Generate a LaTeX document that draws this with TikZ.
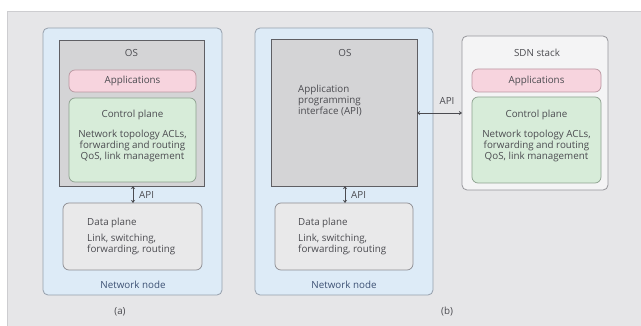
\documentclass[tikz,border=0pt]{standalone}
\usepackage{fontspec}
\setmainfont{Open Sans}
\usetikzlibrary{arrows.meta}
\definecolor{panelfill}{RGB}{230,230,232}
\definecolor{paneldraw}{RGB}{205,205,208}
\definecolor{nodefill}{RGB}{221,235,247}
\definecolor{nodedraw}{RGB}{150,160,172}
\definecolor{osfill}{RGB}{212,212,214}
\definecolor{osdraw}{RGB}{95,95,100}
\definecolor{appfill}{RGB}{247,212,222}
\definecolor{appdraw}{RGB}{185,150,160}
\definecolor{ctrlfill}{RGB}{215,236,217}
\definecolor{ctrldraw}{RGB}{140,160,142}
\definecolor{datafill}{RGB}{233,233,234}
\definecolor{datadraw}{RGB}{140,140,145}
\definecolor{sdnfill}{RGB}{244,244,245}
\definecolor{sdndraw}{RGB}{150,150,155}
\definecolor{txt}{RGB}{75,75,80}
\definecolor{bluetxt}{RGB}{60,80,115}
\tikzset{
  lbl/.style={font=\fontsize{9.8}{11}\selectfont, text=txt, inner sep=0pt, align=center},
  lbll/.style={font=\fontsize{9.8}{11}\selectfont, text=txt, inner sep=0pt, align=left, anchor=north west},
  netbox/.style={draw=nodedraw, fill=nodefill, rounded corners=5pt, line width=0.8pt},
  osbox/.style={draw=osdraw, fill=osfill, line width=0.8pt},
  appbox/.style={draw=appdraw, fill=appfill, rounded corners=6pt, line width=0.7pt},
  ctrlbox/.style={draw=ctrldraw, fill=ctrlfill, rounded corners=6pt, line width=0.7pt},
  databox/.style={draw=datadraw, fill=datafill, rounded corners=6pt, line width=0.7pt},
  sdnbox/.style={draw=sdndraw, fill=sdnfill, rounded corners=5pt, line width=0.8pt},
  apiarrow/.style={draw=txt, line width=0.8pt, {Stealth[length=3pt,width=4pt]}-{Stealth[length=3pt,width=4pt]}}
}
\begin{document}
\begin{tikzpicture}[x=1pt,y=-1pt]
\useasboundingbox (0,0) rectangle (641,326);
\fill[white] (0,0) rectangle (641,326);
% background panel
\filldraw[fill=panelfill, draw=paneldraw, line width=0.8pt] (7,11) rectangle (645,330);

% ---------- (a) conventional network node ----------
\path[netbox] (43,28) rectangle (222,295);
\path[osbox] (59,40) rectangle (204,186);
\node[lbl] (osA) at (131.5,53) {OS};
\path[appbox] (69,70) rectangle (196,92);
\node[lbl] (appA) at (132.5,81) {Applications};
\path[ctrlbox] (69,98) rectangle (196,182);
\node[lbl] (cpA) at (132.5,115) {Control plane};
\node[lbl] (cpAtxt) at (132.5,146) {Network topology ACLs,\\forwarding and routing\\QoS, link management};
\path[databox] (63,203) rectangle (202,270);
\node[lbll] (dpA) at (87,218) {Data plane};
\node[lbll] (dpAtxt) at (87,234) {Link, switching,\\forwarding, routing};
\node[lbl, text=bluetxt] (nnA) at (133,285) {Network node};
\coordinate (osAbot) at (133,186);
\coordinate (dpAtop) at (133,203);
\draw[apiarrow] (osAbot) -- (dpAtop);
\node[lbl, anchor=west] (apiA) at (139,195) {API};
\node[lbl] (capA) at (120,312) {(a)};

% ---------- (b) SDN network node ----------
\path[netbox] (255,28) rectangle (433,295);
\path[osbox] (271,39) rectangle (417,186);
\node[lbl] (osB) at (345,53) {OS};
\node[lbll] (apiB) at (298,85) {Application\\programming\\interface (API)};
\path[databox] (275,203) rectangle (413,270);
\node[lbll] (dpB) at (298,218) {Data plane};
\node[lbll] (dpBtxt) at (298,234) {Link, switching,\\forwarding, routing};
\node[lbl, text=bluetxt] (nnB) at (344,285) {Network node};
\coordinate (osBbot) at (345,186);
\coordinate (dpBtop) at (345,203);
\draw[apiarrow] (osBbot) -- (dpBtop);
\node[lbl, anchor=west] (apiBv) at (351,195) {API};

% SDN stack
\path[sdnbox] (462,36) rectangle (608,190);
\node[lbl] (sdn) at (537,53) {SDN stack};
\path[appbox] (472,69) rectangle (601,92);
\node[lbl] (appB) at (536.5,80.5) {Applications};
\path[ctrlbox] (472,97) rectangle (601,183);
\node[lbl] (cpB) at (536.5,115) {Control plane};
\node[lbl] (cpBtxt) at (536.5,146) {Network topology ACLs,\\forwarding and routing\\QoS, link management};
\coordinate (osBright) at (417,113);
\coordinate (sdnleft) at (462,113);
\draw[apiarrow] (osBright) -- (sdnleft);
\node[lbl] (apiH) at (447,101) {API};
\node[lbl] (capB) at (447,312) {(b)};
\end{tikzpicture}
\end{document}
